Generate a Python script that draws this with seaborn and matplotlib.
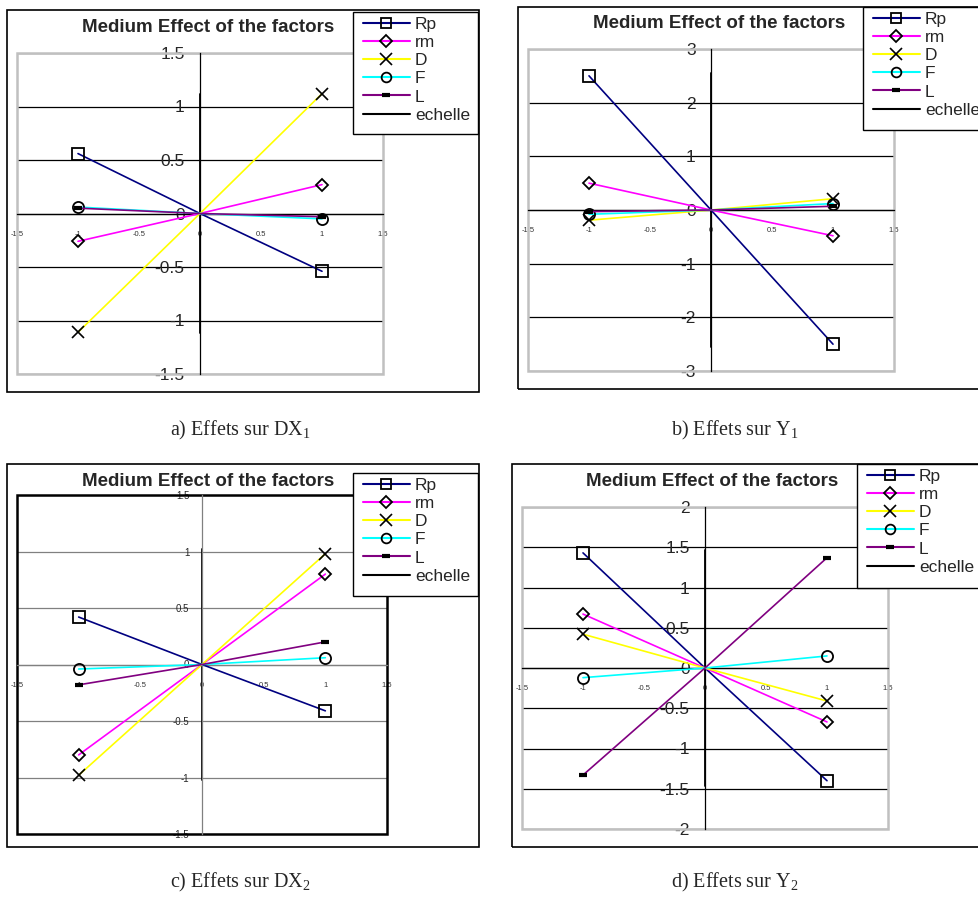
import matplotlib
matplotlib.use("Agg")
import matplotlib.pyplot as plt
import seaborn as sns
import numpy as np
from matplotlib.lines import Line2D
from matplotlib.patches import Rectangle
from matplotlib.ticker import MultipleLocator, FuncFormatter

sns.set_style("white")
plt.rcParams['font.family'] = ['Liberation Sans', 'DejaVu Sans']
plt.rcParams['axes.unicode_minus'] = False

# ---------------- data ----------------
series = ["Rp", "rm", "D", "F", "L"]
x_levels = [-1, 0, 1]

dx1_low = [0.56, -0.26, -1.11, 0.06, 0.05]
dx1_high = [-0.54, 0.27, 1.12, -0.05, -0.03]
y1_low = [2.5, 0.5, -0.19, -0.08, -0.03]
y1_high = [-2.5, -0.48, 0.21, 0.12, 0.07]
dx2_low = [0.42, -0.8, -0.98, -0.04, -0.18]
dx2_high = [-0.41, 0.8, 0.98, 0.06, 0.2]
y2_low = [1.43, 0.67, 0.42, -0.12, -1.33]
y2_high = [-1.4, -0.67, -0.41, 0.15, 1.37]

echelle = [1.12, 2.55, 1.02, 1.46]
ylims = [1.5, 3, 1.5, 2]
ysteps = [0.5, 1, 0.5, 0.5]
x_ticks = [-1.5, -1, -0.5, 0, 0.5, 1, 1.5]

title = "Medium Effect of the factors"
captions = ["a) Effets sur DX$\\mathregular{_1}$", "b) Effets sur Y$\\mathregular{_1}$",
            "c) Effets sur DX$\\mathregular{_2}$", "d) Effets sur Y$\\mathregular{_2}$"]

colors = {"Rp": "#000080", "rm": "#FF00FF", "D": "#FFFF00", "F": "#00FFFF", "L": "#800080"}
markers = {"Rp": "s", "rm": "D", "D": "x", "F": "o", "L": "_"}

# ---------------- layout (pixels) ----------------
W, H = 979, 899
fig = plt.figure(figsize=(W / 100, H / 100), dpi=100)
fig.patch.set_facecolor("white")

def fx(px):
    return px / W

def fy(py):
    return 1 - py / H

# plot area boxes: left, top, right, bottom
plot_boxes = [(17, 53, 383, 374), (528, 49, 894, 371), (17, 495, 387, 834), (522, 507, 888, 829)]
frames = [(7, 10, 479, 392), (518, 7, 1010, 389), (7, 464, 479, 847), (512, 464, 1010, 847)]
legend_boxes = [(353, 12, 478, 134), (863, 7, 1010, 130), (353, 473, 478, 596), (857, 464, 1010, 588)]
title_pos = [(208, 27), (719, 23), (208, 481), (712, 481)]
caption_pos = [(240, 430), (735, 430), (240, 882), (735, 882)]

lows = [dx1_low, y1_low, dx2_low, y2_low]
highs = [dx1_high, y1_high, dx2_high, y2_high]

for i in range(4):
    fl, ft, fr, fb = frames[i]
    fig.patches.append(Rectangle((fx(fl), fy(fb)), fx(fr) - fx(fl), fy(ft) - fy(fb),
                                 transform=fig.transFigure, fill=False, edgecolor="black",
                                 lw=1.2, zorder=0))
    l, t, r, b = plot_boxes[i]
    ax = fig.add_axes([fx(l), fy(b), fx(r) - fx(l), fy(t) - fy(b)])
    ax.set_facecolor("none")
    lim = ylims[i]
    ax.set_xlim(-1.5, 1.5)
    ax.set_ylim(-lim, lim)

    panel_c = (i == 2)
    grid_col = "#808080" if panel_c else "black"
    axis_col = "#808080" if panel_c else "black"
    border_col = "black" if panel_c else "#C0C0C0"

    # gridlines
    ax.yaxis.set_major_locator(MultipleLocator(ysteps[i]))
    ax.grid(axis="y", color=grid_col, lw=0.9)
    ax.grid(axis="x", visible=False)
    ax.set_axisbelow(True)

    # plot area border
    ax.add_patch(Rectangle((0, 0), 1, 1, transform=ax.transAxes, fill=False,
                           edgecolor=border_col, lw=1.8, clip_on=False, zorder=1))

    for s in ["top", "right"]:
        ax.spines[s].set_visible(False)
    ax.spines["left"].set_position(("data", 0))
    ax.spines["bottom"].set_position(("data", 0))
    for s in ["left", "bottom"]:
        ax.spines[s].set_color(axis_col)
        ax.spines[s].set_linewidth(0.9)

    ax.set_xticks(x_ticks)
    fmt = FuncFormatter(lambda v, p: ("%g" % v))
    ax.xaxis.set_major_formatter(fmt)
    ax.yaxis.set_major_formatter(fmt)
    ax.tick_params(axis="x", direction="in", length=3, width=0.8, color=axis_col,
                   labelsize=5.5, pad=12.5, labelcolor="#333333")
    ysize = 7 if panel_c else 12.5
    ax.tick_params(axis="y", direction="out", length=3, width=0.8, color=axis_col,
                   labelsize=ysize, pad=8 if not panel_c else 6)

    # series
    for k, s in enumerate(series):
        yv = [lows[i][k], 0, highs[i][k]]
        if s == "L":
            mk = dict(marker="_", ms=6, mew=3, mec="black")
        elif s == "D":
            mk = dict(marker="x", ms=9, mew=1.2, mec="black")
        else:
            mk = dict(marker=markers[s], ms=8 if s != "rm" else 6.5, mew=1.3,
                      mec="black", mfc="none")
        sns.lineplot(x=x_levels, y=yv, color=colors[s], lw=1.2, ax=ax,
                     markevery=[0, 2], estimator=None, sort=False, zorder=3, **mk)
    # echelle
    e = echelle[i]
    sns.lineplot(x=[0, 0], y=[-e, e], color="black", lw=1.3, ax=ax,
                 estimator=None, sort=False, zorder=2)
    ax.set_xlabel("")
    ax.set_ylabel("")

    # title
    tx, ty = title_pos[i]
    fig.text(fx(tx), fy(ty), title, ha="center", va="center", fontsize=13.5,
             fontweight="bold")

    # legend box and legend
    ll, lt, lr, lb = legend_boxes[i]
    fig.patches.append(Rectangle((fx(ll), fy(lb)), fx(lr) - fx(ll), fy(lt) - fy(lb),
                                 transform=fig.transFigure, facecolor="white",
                                 edgecolor="black", lw=1.0, zorder=5))
    handles = []
    for s in series:
        if s == "L":
            h = Line2D([], [], color=colors[s], lw=1.5, marker="_", ms=6, mew=3, mec="black")
        elif s == "D":
            h = Line2D([], [], color=colors[s], lw=1.5, marker="x", ms=8, mew=1.2, mec="black")
        else:
            h = Line2D([], [], color=colors[s], lw=1.5, marker=markers[s],
                       ms=7 if s != "rm" else 6, mew=1.3, mec="black", mfc="none")
        handles.append(h)
    handles.append(Line2D([], [], color="black", lw=1.5))
    leg = fig.legend(handles, series + ["echelle"], loc="upper left",
                     bbox_to_anchor=(fx(ll + 10), fy(lt + 5)), frameon=False,
                     fontsize=12.5, handlelength=2.7, handletextpad=0.3,
                     labelspacing=0.17, borderpad=0, borderaxespad=0, numpoints=1)
    leg.set_zorder(6)

    # caption
    cx, cy = caption_pos[i]
    fig.text(fx(cx), fy(cy), captions[i], ha="center", va="center", fontsize=14.5,
             family=["Liberation Serif", "DejaVu Serif"])

fig.savefig("out.png", dpi=100)
